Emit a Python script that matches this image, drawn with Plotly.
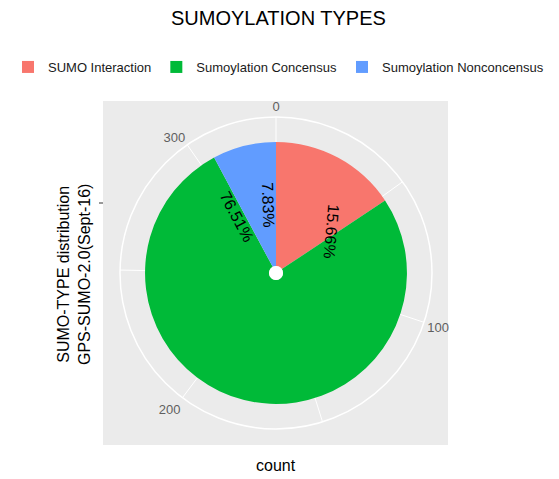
import numpy as np
import plotly.graph_objects as go

categories = ["SUMO Interaction", "Sumoylation Concensus", "Sumoylation Nonconcensus"]
counts = [52, 254, 26]
colors = ["#F8766D", "#00BA38", "#619CFF"]
count_ticks = [0, 50, 100, 150, 200, 250, 300]
count_ticktext = ["0", "", "100", "", "200", "", "300"]

# where ggplot put the rotated percent labels (theta in counts)
label_theta = [49, 300, 326]
label_angle = [95, 62, 88]

# the page body has an 8px margin, so work in page px minus that
OFF = 8
W, H = 559 - OFF, 479 - OFF
total = sum(counts)
deg = 360.0 / total
pct = [c / total * 100 for c in counts]


def px_x(x):
    return (x - OFF) / W


def px_y(y):
    return 1 - (y - OFF) / H


# polar geometry in page px
cx, cy, R = 276, 273, 156
r_min, r_max = 0.4435, 1.702

fig = go.Figure()

start = 0
for name, c, col in zip(categories, counts, colors):
    fig.add_trace(go.Barpolar(
        r=[1.0], base=[0.5],
        theta=[(start + c / 2) * deg], width=[c * deg],
        marker=dict(color=col, line=dict(width=0)),
        name=name,
    ))
    start += c

# white hub in the middle
fig.add_trace(go.Barpolar(
    r=[0.5 - r_min], base=[r_min], theta=[0], width=[360],
    marker=dict(color="white", line=dict(width=0)),
    showlegend=False, hoverinfo="skip",
))

fig.update_layout(
    width=W, height=H,
    margin=dict(l=0, r=0, t=0, b=0),
    paper_bgcolor="white",
    font=dict(family="Liberation Sans, Arial, sans-serif"),
    polar=dict(
        domain=dict(x=[px_x(cx - R), px_x(cx + R)], y=[px_y(cy + R), px_y(cy - R)]),
        bgcolor="#EBEBEB",
        radialaxis=dict(range=[r_min, r_max], visible=False),
        angularaxis=dict(
            rotation=90, direction="clockwise",
            tickmode="array",
            tickvals=[t * deg for t in count_ticks],
            ticktext=count_ticktext,
            ticks="",
            tickfont=dict(size=13, color="#5f5f5f"),
            gridcolor="white", gridwidth=1.2,
            showline=True, linecolor="white", linewidth=1.5,
        ),
    ),
    legend=dict(
        orientation="h", x=0, xanchor="left", y=px_y(67), yanchor="middle",
        font=dict(size=13, color="#1a1a1a"), itemwidth=30,
    ),
    showlegend=True,
)

# grey panel behind
fig.add_shape(type="rect", xref="paper", yref="paper",
              x0=px_x(103), x1=px_x(448), y0=px_y(445), y1=px_y(101),
              fillcolor="#EBEBEB", line=dict(width=0), layer="below")
fig.add_shape(type="line", xref="paper", yref="paper",
              x0=px_x(99), x1=px_x(103), y0=px_y(203), y1=px_y(203),
              line=dict(color="#333333", width=1))

# percent labels
scale = R / (r_max - r_min)
for p, th, ang in zip(pct, label_theta, label_angle):
    a = np.radians(th * deg)
    rp = (1.0 - r_min) * scale
    fig.add_annotation(x=px_x(cx + rp * np.sin(a)), y=px_y(cy - rp * np.cos(a)),
                       xref="paper", yref="paper", xanchor="center", yanchor="middle",
                       text=f"{p:.2f}%", textangle=ang, showarrow=False,
                       font=dict(size=16, color="black"))

fig.add_annotation(x=px_x(278), y=px_y(18), xref="paper", yref="paper",
                   xanchor="center", yanchor="middle",
                   text="SUMOYLATION TYPES", showarrow=False,
                   font=dict(size=20, color="black"))
fig.add_annotation(x=px_x(276), y=px_y(465), xref="paper", yref="paper",
                   xanchor="center", yanchor="middle",
                   text="count", showarrow=False,
                   font=dict(size=16, color="black"))
fig.add_annotation(x=px_x(74), y=px_y(275), xref="paper", yref="paper",
                   xanchor="center", yanchor="middle",
                   text="SUMO-TYPE distribution<br>GPS-SUMO-2.0(Sept-16)",
                   textangle=-90, showarrow=False,
                   font=dict(size=16, color="black"))

fig.write_html("out.html")
